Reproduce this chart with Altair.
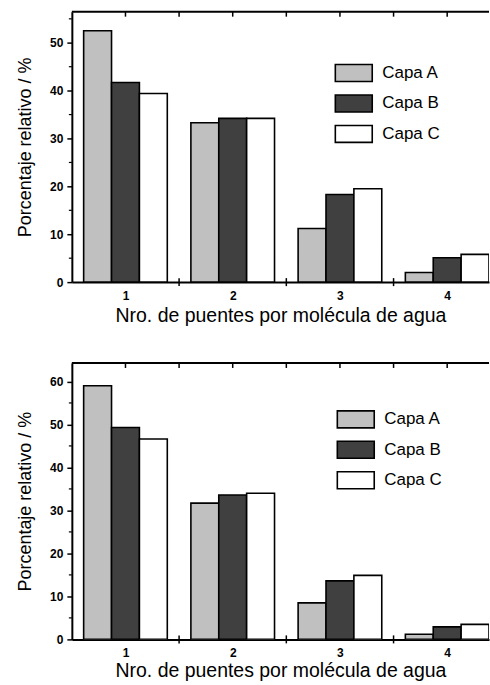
import altair as alt
import pandas as pd

# Number of hydrogen bonds per water molecule (category positions)
puentes = [1, 2, 3, 4]
capas = ["Capa A", "Capa B", "Capa C"]
colores = ["#c0c0c0", "#404040", "#ffffff"]

# Upper panel: relative percentage per layer
sup_a = [52.5, 33.3, 11.2, 2.0]
sup_b = [41.7, 34.2, 18.3, 5.1]
sup_c = [39.4, 34.2, 19.5, 5.8]

# Lower panel: relative percentage per layer
inf_a = [59.0, 31.7, 8.5, 1.2]
inf_b = [49.3, 33.6, 13.6, 2.9]
inf_c = [46.6, 34.0, 14.9, 3.5]

y_ticks_sup = [0, 10, 20, 30, 40, 50]
y_minor_sup = [5, 15, 25, 35, 45, 55]
y_ticks_inf = [0, 10, 20, 30, 40, 50, 60]
y_minor_inf = [5, 15, 25, 35, 45, 55]
x_half = [1.5, 2.5, 3.5]
x_top = [1, 1.5, 2, 2.5, 3, 3.5, 4]

FONT = "Liberation Sans"
W = 418
BAR_W = 0.26
X_DOM = [0.5, 4.39]


def tabla(a, b, c):
    filas = []
    for serie, vals in zip(capas, (a, b, c)):
        for n, v in zip(puentes, vals):
            filas.append({"n": n, "capa": serie, "valor": v,
                          "i": capas.index(serie)})
    return pd.DataFrame(filas)


def panel(df, ymax, h, yticks, yminor, lx, ly, title_pad):
    xs = alt.Scale(domain=X_DOM, nice=False, zero=False)
    ys = alt.Scale(domain=[0, ymax], nice=False, zero=True)
    ax_x = alt.Axis(
        values=puentes, ticks=False, format="d",
        title="Nro. de puentes por molécula de agua",
        labelFont=FONT, labelFontSize=12, labelFontWeight="bold",
        labelColor="black", labelPadding=8,
        titleFont=FONT, titleFontSize=19.5, titleFontWeight="normal",
        titleColor="black", titlePadding=title_pad,
        domainColor="black", domainWidth=2, grid=False)
    ax_y = alt.Axis(
        values=yticks, tickSize=5, tickWidth=1.5, tickColor="black",
        title="Porcentaje relativo / %",
        labelFont=FONT, labelFontSize=12, labelFontWeight="bold",
        labelColor="black", labelPadding=4,
        titleFont=FONT, titleFontSize=18, titleFontWeight="normal",
        titleColor="black", titlePadding=15,
        domainColor="black", domainWidth=2, grid=False)

    # legend swatch: 37 x 17 rectangle drawn around a small nominal symbol size
    barras = alt.Chart(df).transform_calculate(
        x0=f"datum.n + (datum.i - 1.5) * {BAR_W}",
        x1=f"datum.n + (datum.i - 0.5) * {BAR_W}",
    ).mark_bar(stroke="black", strokeWidth=1.6, clip=True).encode(
        x=alt.X("x0:Q", scale=xs, axis=ax_x),
        x2="x1:Q",
        y=alt.Y("valor:Q", scale=ys, axis=ax_y),
        y2=alt.datum(0),
        color=alt.Color("capa:N", scale=alt.Scale(domain=capas, range=colores),
                        legend=alt.Legend(
                            title=None, orient="none", legendX=lx, legendY=ly,
                            symbolType="M-2,-0.92H2V0.92H-2Z", symbolSize=342,
                            symbolStrokeColor="black", symbolStrokeWidth=1.6,
                            symbolOpacity=1, labelFont=FONT, labelFontSize=17,
                            labelColor="black", labelOffset=18, rowPadding=5.5)),
    )

    menores = alt.Chart(pd.DataFrame({"v": yminor})).mark_rule(
        color="black", strokeWidth=1.2).encode(
        y=alt.Y("v:Q", scale=ys, axis=ax_y),
        x=alt.value(-3), x2=alt.value(0))

    medias = alt.Chart(pd.DataFrame({"v": x_half})).mark_rule(
        color="black", strokeWidth=1.5).encode(
        x=alt.X("v:Q", scale=xs, axis=ax_x),
        y=alt.value(h - 4), y2=alt.value(h + 4))

    superiores = alt.Chart(pd.DataFrame({"v": x_top})).mark_rule(
        color="black", strokeWidth=1.5).encode(
        x=alt.X("v:Q", scale=xs, axis=ax_x),
        y=alt.value(0), y2=alt.value(5))

    borde = alt.Chart(pd.DataFrame({"v": [0]})).mark_rule(
        color="black", strokeWidth=2).encode(
        y=alt.value(0), x=alt.value(0), x2=alt.value(W))

    return alt.layer(barras, menores, medias, superiores, borde).properties(
        width=W, height=h)


arriba = panel(tabla(sup_a, sup_b, sup_c), 56.5, 271,
               y_ticks_sup, y_minor_sup, 272, 51, 5)
abajo = panel(tabla(inf_a, inf_b, inf_c), 64.3, 277,
              y_ticks_inf, y_minor_inf, 274, 46, 3)

chart = alt.vconcat(arriba, abajo, spacing=37).resolve_scale(
    color="independent").properties(
    padding={"left": 16, "top": 10, "right": 0, "bottom": 0},
    background="white",
).configure_view(stroke=None)

chart.save("out.html", embed_options={"renderer": "svg", "actions": False})
